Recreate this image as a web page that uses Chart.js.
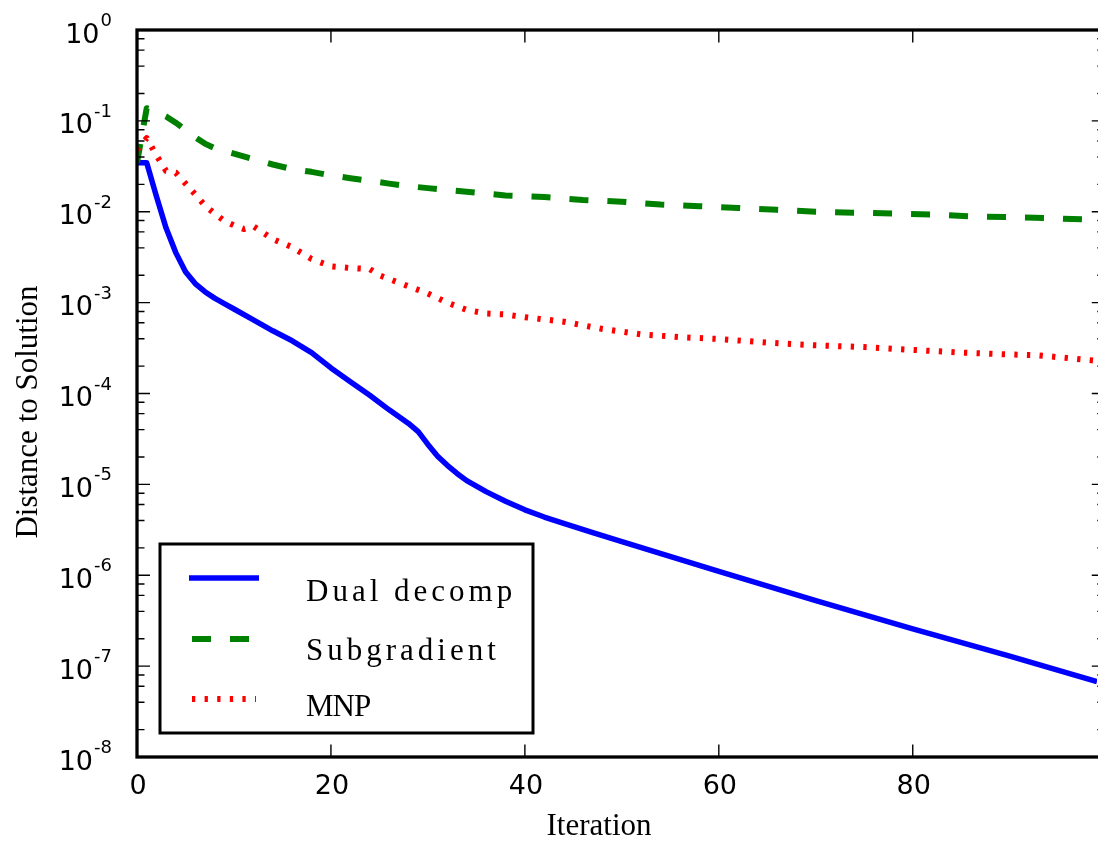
<!DOCTYPE html>
<html>
<head>
<meta charset="utf-8">
<script src="https://cdn.jsdelivr.net/npm/chart.js@4.4.0/dist/chart.umd.min.js"></script>
<style>
  html, body { margin: 0; padding: 0; background: #fff; }
  #wrap { width: 1098px; height: 844px; }
</style>
</head>
<body>
<div id="wrap"><canvas id="chart" width="1098" height="844"></canvas></div>
<script>
// iterations and distance to solution
const dualIter = [0, 1, 2, 3, 4, 5, 6, 7, 8, 9, 10, 12, 14, 16, 18, 20, 22, 24, 26, 28, 29, 30, 31, 32, 33, 34, 36, 38, 40, 42, 44, 47, 50, 60, 70, 80, 90, 99];
const dualDist = [3.47e-2, 3.47e-2, 1.48e-2, 6.61e-3, 3.55e-3, 2.19e-3, 1.62e-3, 1.32e-3, 1.12e-3, 9.77e-4, 8.51e-4, 6.46e-4, 4.90e-4, 3.80e-4, 2.82e-4, 1.91e-4, 1.35e-4, 9.55e-5, 6.61e-5, 4.68e-5, 3.80e-5, 2.75e-5, 2.04e-5, 1.62e-5, 1.32e-5, 1.10e-5, 8.32e-6, 6.53e-6, 5.25e-6, 4.37e-6, 3.72e-6, 2.95e-6, 2.34e-6, 1.10e-6, 5.25e-7, 2.57e-7, 1.29e-7, 6.76e-8];

const subIter = [0, 1, 2, 3, 4, 5, 6, 7, 8, 10, 12, 14, 16, 18, 20, 22, 24, 26, 28, 30, 34, 38, 42, 46, 50, 54, 58, 62, 66, 70, 74, 78, 82, 86, 90, 94, 99];
const subDist = [3.47e-2, 0.138, 0.126, 0.112, 9.55e-2, 7.94e-2, 6.61e-2, 5.62e-2, 5.01e-2, 4.37e-2, 3.80e-2, 3.31e-2, 2.95e-2, 2.75e-2, 2.51e-2, 2.34e-2, 2.19e-2, 2.04e-2, 1.91e-2, 1.82e-2, 1.66e-2, 1.51e-2, 1.45e-2, 1.35e-2, 1.29e-2, 1.20e-2, 1.15e-2, 1.10e-2, 1.05e-2, 1.00e-2, 9.77e-3, 9.55e-3, 9.33e-3, 8.91e-3, 8.71e-3, 8.51e-3, 8.13e-3];

const mnpIter = [0, 1, 2, 3, 4, 5, 6, 7, 8, 9, 10, 11, 12, 13, 14, 16, 18, 20, 22, 24, 25, 26, 28, 30, 32, 34, 36, 38, 40, 44, 48, 52, 56, 60, 65, 70, 75, 80, 85, 90, 93, 96, 99];
const mnpDist = [4.79e-2, 6.46e-2, 4.17e-2, 2.82e-2, 2.69e-2, 2.04e-2, 1.55e-2, 1.17e-2, 9.55e-3, 7.94e-3, 7.08e-3, 6.46e-3, 6.92e-3, 5.89e-3, 5.01e-3, 4.07e-3, 3.02e-3, 2.51e-3, 2.40e-3, 2.34e-3, 2.00e-3, 1.82e-3, 1.51e-3, 1.26e-3, 1.00e-3, 8.32e-4, 7.59e-4, 7.41e-4, 6.92e-4, 6.17e-4, 5.13e-4, 4.47e-4, 4.17e-4, 3.98e-4, 3.63e-4, 3.39e-4, 3.24e-4, 3.02e-4, 2.82e-4, 2.69e-4, 2.63e-4, 2.45e-4, 2.29e-4];

const seriesNames = ['Dual decomp', 'Subgradient', 'MNP'];
const xTicks = [0, 20, 40, 60, 80];
const yExponents = [0, -1, -2, -3, -4, -5, -6, -7, -8];
const minorSubs = [2, 4, 6, 8];

const toPoints = (xs, ys) => xs.map((x, i) => ({ x: x, y: ys[i] }));

// axes, ticks, titles and legend drawn matplotlib-style
const decoPlugin = {
  id: 'deco',
  afterDraw(chart) {
    const ctx = chart.ctx;
    const a = chart.chartArea;
    const xs = chart.scales.x, ys = chart.scales.y;
    const right = xs.getPixelForValue(99.8);
    ctx.save();

    // ticks
    ctx.strokeStyle = '#000';
    ctx.lineWidth = 1.4;
    ctx.beginPath();
    xTicks.forEach(v => {
      const px = xs.getPixelForValue(v);
      ctx.moveTo(px, a.bottom); ctx.lineTo(px, a.bottom - 12.5);
      ctx.moveTo(px, a.top); ctx.lineTo(px, a.top + 12.5);
    });
    yExponents.forEach(e => {
      const py = ys.getPixelForValue(Math.pow(10, e));
      ctx.moveTo(a.left, py); ctx.lineTo(a.left + 13, py);
      ctx.moveTo(right, py); ctx.lineTo(right - 13, py);
      if (e < 0) {
        minorSubs.forEach(k => {
          const my = ys.getPixelForValue(k * Math.pow(10, e));
          ctx.moveTo(a.left, my); ctx.lineTo(a.left + 7.5, my);
          ctx.moveTo(right, my); ctx.lineTo(right - 7.5, my);
        });
      }
    });
    ctx.stroke();

    // spines
    ctx.lineWidth = 3.3;
    ctx.strokeRect(a.left, a.top, right - a.left, a.bottom - a.top);

    // x tick labels
    ctx.fillStyle = '#000';
    ctx.font = '27px "DejaVu Sans"';
    ctx.textAlign = 'center';
    ctx.textBaseline = 'alphabetic';
    xTicks.forEach(v => {
      ctx.fillText(String(v), xs.getPixelForValue(v) + 1, a.bottom + 37);
    });

    // y tick labels 10^e
    ctx.textAlign = 'right';
    yExponents.forEach(e => {
      const py = ys.getPixelForValue(Math.pow(10, e));
      const ex = String(e);
      ctx.font = '18px "DejaVu Sans"';
      const w = ctx.measureText(ex).width;
      ctx.fillText(ex, 112, py - 4);
      ctx.font = '27px "DejaVu Sans"';
      ctx.fillText('10', 112 - w - 1, py + 12.5);
    });

    // axis titles
    ctx.font = '31px "Liberation Serif"';
    ctx.textAlign = 'center';
    ctx.fillText('Iteration', 599, 835);
    ctx.save();
    ctx.translate(37, 412);
    ctx.rotate(-Math.PI / 2);
    ctx.fillText('Distance to Solution', 0, 0);
    ctx.restore();

    // legend
    ctx.fillStyle = '#fff';
    ctx.fillRect(160, 544, 373, 189);
    ctx.lineWidth = 3;
    ctx.strokeStyle = '#000';
    ctx.strokeRect(160, 544, 373, 189);
    const rows = [578, 639, 699];
    const bases = [601, 660, 716];
    const spacing = [4, 4, -1];
    chart.data.datasets.forEach((ds, i) => {
      ctx.save();
      ctx.strokeStyle = ds.borderColor;
      ctx.lineWidth = ds.borderWidth;
      ctx.setLineDash(ds.borderDash || []);
      ctx.beginPath();
      ctx.moveTo(i === 0 ? 189 : 192, rows[i]);
      ctx.lineTo(i === 0 ? 259 : 256, rows[i]);
      ctx.stroke();
      ctx.restore();
      ctx.font = '31px "Liberation Serif"';
      ctx.textAlign = 'left';
      ctx.fillStyle = '#000';
      let tx = 306;
      for (const ch of seriesNames[i]) {
        ctx.fillText(ch, tx, bases[i]);
        tx += ctx.measureText(ch).width + spacing[i];
      }
    });
    ctx.restore();
  }
};

new Chart(document.getElementById('chart'), {
  type: 'line',
  data: {
    datasets: [
      {
        label: seriesNames[0],
        data: toPoints(dualIter, dualDist),
        borderColor: '#0000ff',
        borderWidth: 5.5,
        order: 3
      },
      {
        label: seriesNames[1],
        data: toPoints(subIter, subDist),
        borderColor: '#008000',
        borderWidth: 6,
        borderDash: [19, 19],
        order: 2
      },
      {
        label: seriesNames[2],
        data: toPoints(mnpIter, mnpDist),
        borderColor: '#ff0000',
        borderWidth: 6,
        borderDash: [3.3, 9.3],
        order: 1
      }
    ]
  },
  options: {
    responsive: false,
    animation: false,
    devicePixelRatio: 1,
    layout: { padding: { left: 137, top: 30, right: 1, bottom: 87 } },
    elements: {
      point: { radius: 0 },
      line: { tension: 0, fill: false, borderJoinStyle: 'round' }
    },
    plugins: { legend: { display: false }, tooltip: { enabled: false } },
    scales: {
      x: { type: 'linear', min: 0, max: 99, display: false },
      y: { type: 'logarithmic', min: 1e-8, max: 1, display: false }
    }
  },
  plugins: [decoPlugin]
});
</script>
</body>
</html>
